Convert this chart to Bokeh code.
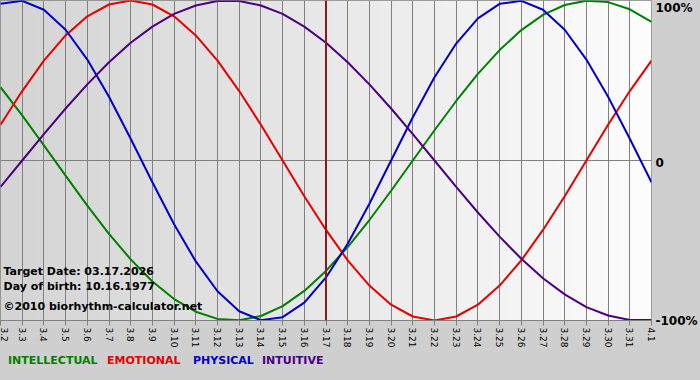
import numpy as np
from bokeh.plotting import figure
from bokeh.models import Range1d, FixedTicker, Span, Label, LinearAxis, Div
from bokeh.layouts import column
from bokeh.embed import file_html
from bokeh.resources import INLINE
import math

# ---- data ----
days = ["3.2", "3.3", "3.4", "3.5", "3.6", "3.7", "3.8", "3.9", "3.10", "3.11",
        "3.12", "3.13", "3.14", "3.15", "3.16", "3.17", "3.18", "3.19", "3.20",
        "3.21", "3.22", "3.23", "3.24", "3.25", "3.26", "3.27", "3.28", "3.29",
        "3.30", "3.31", "4.1"]

intellectual = [0.458, 0.282, 0.095, -0.095, -0.282, -0.458, -0.618, -0.756,
                -0.866, -0.945, -0.990, -0.999, -0.972, -0.910, -0.815, -0.690,
                -0.541, -0.372, -0.189, 0.000, 0.189, 0.372, 0.541, 0.690,
                0.815, 0.910, 0.972, 0.999, 0.990, 0.945, 0.866]

emotional = [0.223, 0.434, 0.624, 0.782, 0.901, 0.975, 1.000, 0.975, 0.901,
             0.782, 0.624, 0.434, 0.223, 0.000, -0.223, -0.434, -0.624, -0.782,
             -0.901, -0.975, -1.000, -0.975, -0.901, -0.782, -0.624, -0.434,
             -0.223, 0.000, 0.223, 0.434, 0.624]

physical = [0.979, 0.998, 0.942, 0.817, 0.631, 0.398, 0.136, -0.136, -0.398,
            -0.631, -0.817, -0.942, -0.998, -0.979, -0.888, -0.731, -0.520,
            -0.270, 0.000, 0.270, 0.520, 0.731, 0.888, 0.979, 0.998, 0.942,
            0.817, 0.631, 0.398, 0.136, -0.136]

intuitive = [-0.165, 0.000, 0.165, 0.325, 0.476, 0.614, 0.736, 0.837, 0.916,
             0.969, 0.997, 0.997, 0.969, 0.916, 0.837, 0.736, 0.614, 0.476,
             0.325, 0.165, 0.000, -0.165, -0.325, -0.476, -0.614, -0.736,
             -0.837, -0.916, -0.969, -0.997, -0.997]

target_day = "3.17"
y_levels = [1, 0, -1]
y_level_labels = ["100%", "0", "-100%"]
series_names = ["INTELLECTUAL", "EMOTIONAL", "PHYSICAL", "INTUITIVE"]
series_colors = ["#008000", "#e60000", "#0000cc", "#4b0082"]
info_lines = ["Target Date: 03.17.2026", "Day of birth: 10.16.1977",
              "\u00a92010 biorhythm-calculator.net"]

# ---- style ----
FONT = "DejaVu Sans"
BORDER = "#cfcfcf"
FRAME_H = 320
label_px_shift = [7, 2, 0]       # pixel shift of the right-hand labels (down +)
info_y_px = [49, 34, 14]
legend_x_px = [8, 107, 193, 262]

x = list(range(len(days)))
n = len(days) - 1

p = figure(width=700, height=350, output_backend="svg", toolbar_location=None,
           x_range=Range1d(0, n), y_range=Range1d(-1, 1),
           y_axis_location=None, min_border_left=0, min_border_right=49,
           min_border_top=0, min_border_bottom=30)

p.background_fill_color = "#e8e8e8"
p.border_fill_color = BORDER
p.outline_line_color = "#808080"
p.outline_line_width = 1

# gradient background of the frame (left gray -> right white)
cols = 200
g = np.linspace(212, 253, cols).astype(np.uint32)
img = np.zeros((1, cols), dtype=np.uint32)
view = img.view(dtype=np.uint8).reshape((1, cols, 4))
view[0, :, 0] = g
view[0, :, 1] = g
view[0, :, 2] = g
view[0, :, 3] = 255
r = p.image_rgba(image=[img], x=0, y=-1, dw=n, dh=2)
r.level = "image"

# grids
p.xgrid.ticker = FixedTicker(ticks=x)
p.xgrid.grid_line_color = "#808080"
p.xgrid.grid_line_width = 1
p.ygrid.ticker = FixedTicker(ticks=[0])
p.ygrid.grid_line_color = "#808080"
p.ygrid.grid_line_width = 1

# x axis
ax = p.xaxis[0]
ax.ticker = FixedTicker(ticks=x)
ax.major_label_overrides = {i: d for i, d in enumerate(days)}
ax.major_label_orientation = -math.pi / 2
ax.major_label_text_font = FONT
ax.major_label_text_font_size = "9px"
ax.major_label_text_color = "#000000"
ax.major_tick_out = 5
ax.major_tick_in = 0
ax.minor_tick_line_color = None
ax.major_tick_line_color = "#808080"
ax.axis_line_color = "#808080"
ax.major_label_standoff = 2

# right-hand level labels (as an axis)
units_per_px = 2.0 / FRAME_H
tick_pos = [lv - s * units_per_px for lv, s in zip(y_levels, label_px_shift)]
ra = LinearAxis(ticker=FixedTicker(ticks=tick_pos),
                major_label_overrides={t: l for t, l in zip(tick_pos, y_level_labels)},
                major_tick_out=0, major_tick_in=0, minor_tick_line_color=None,
                axis_line_color=None, major_label_standoff=4,
                major_label_text_font=FONT, major_label_text_font_style="bold",
                major_label_text_font_size="12px", major_label_text_color="#000000")
p.add_layout(ra, "right")

# target date line
p.add_layout(Span(location=days.index(target_day), dimension="height",
                  line_color="#8b1a1a", line_width=2))

# curves
for vals, c in zip([intellectual, emotional, physical, intuitive], series_colors):
    p.line(x, vals, line_color=c, line_width=2)

# info texts inside the chart
for txt, yy in zip(info_lines, info_y_px):
    p.add_layout(Label(x=3, y=yy, x_units="screen", y_units="screen", text=txt,
                       text_font=FONT, text_font_style="bold",
                       text_font_size="11px", text_color="#000000",
                       text_baseline="middle", text_align="left"))

# legend row at the bottom
spans = "".join(
    f'<span style="position:absolute; left:{lx}px; top:5px; color:{c};">{name}</span>'
    for name, c, lx in zip(series_names, series_colors, legend_x_px))
legend_div = Div(text=f'<div style="position:relative; width:700px; height:30px;">{spans}</div>',
                 width=700, height=30, margin=(0, 0, 0, 0),
                 styles={"background-color": BORDER, "font-family": FONT,
                         "font-weight": "bold", "font-size": "11px",
                         "line-height": "12px"})

layout = column(p, legend_div, spacing=0)
layout.styles = {"background-color": BORDER}

open("out.html", "w").write(file_html(layout, INLINE))
